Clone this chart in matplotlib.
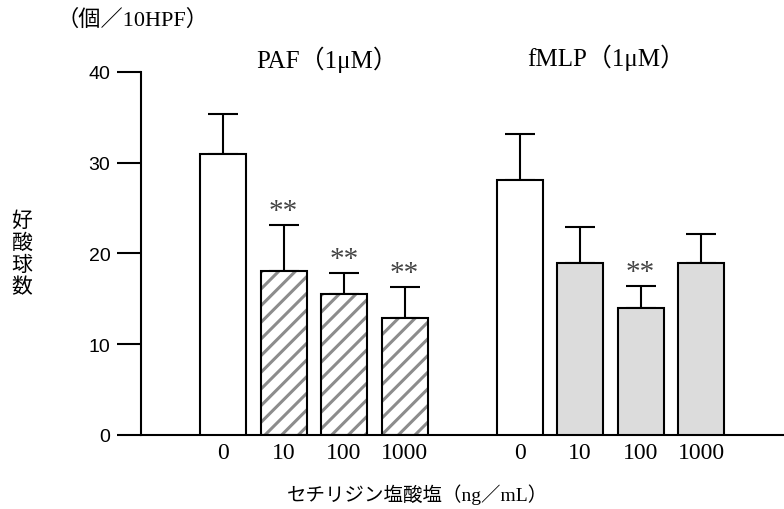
import numpy as np
import matplotlib.pyplot as plt

plt.rcParams['font.family'] = ['Liberation Serif', 'Noto Sans CJK JP']
plt.rcParams['hatch.linewidth'] = 2.2
plt.rcParams['hatch.color'] = '#8c8c8c'

# data
doses = ['0', '10', '100', '1000']
paf_mean = [31.0, 18.1, 15.5, 12.9]
paf_err = [4.4, 5.0, 2.4, 3.4]
fmlp_mean = [28.1, 19.0, 14.0, 19.0]
fmlp_err = [5.1, 3.9, 2.4, 3.1]
paf_sig = [False, True, True, True]
fmlp_sig = [False, False, True, False]

fig = plt.figure(figsize=(7.84, 5.10), dpi=100)
ax = fig.add_axes([141/784, 1 - 436/510, 643/784, 363/510])

step = 1.0
gap = 1.9
x_paf = np.arange(4) * step
x_fmlp = x_paf[-1] + gap + np.arange(4) * step
w = 0.76
lw = 1.5

def draw_group(xs, means, errs, sig, fills, hatched):
    for x, m, e, s, fc, h in zip(xs, means, errs, sig, fills, hatched):
        if h:
            # hatch in gray first, then black outline on top
            ax.bar(x, m, width=w, color='white', edgecolor='#8c8c8c', hatch='//', linewidth=0, zorder=2)
            ax.bar(x, m, width=w, fill=False, edgecolor='black', linewidth=lw, zorder=3)
        else:
            ax.bar(x, m, width=w, color=fc, edgecolor='black', linewidth=lw, zorder=3)
        ax.errorbar(x, m, yerr=[[0], [e]], fmt='none', ecolor='black', elinewidth=lw,
                    capsize=10.5, capthick=lw, zorder=1)
        if s:
            ax.text(x, m + e + 0.1, '**', ha='center', va='bottom', fontsize=21,
                    color='#444444', family=['Liberation Serif'])

draw_group(x_paf, paf_mean, paf_err, paf_sig, ['white'] * 4, [False, True, True, True])
draw_group(x_fmlp, fmlp_mean, fmlp_err, fmlp_sig, ['white', '#dcdcdc', '#dcdcdc', '#dcdcdc'],
           [False] * 4)

ax.set_xlim(-1.355, 9.27)
ax.set_ylim(0, 40)
ax.set_yticks([0, 10, 20, 30, 40])
ax.set_yticklabels(['0', '10', '20', '30', '40'], family=['Liberation Sans'], fontsize=14)
ax.tick_params(axis='y', length=17, width=lw, pad=5)
ax.set_xticks(list(x_paf) + list(x_fmlp))
ax.set_xticklabels(doses + doses, fontsize=17)
ax.tick_params(axis='x', length=0, pad=5)
for side in ['top', 'right']:
    ax.spines[side].set_visible(False)
ax.spines['left'].set_linewidth(lw)
ax.spines['bottom'].set_linewidth(lw)

fig.text(22/784, 1 - 254/510, '好\n酸\n球\n数', ha='center', va='center', fontsize=15,
         linespacing=1.0, family=['Noto Sans CJK JP'])
fig.text(132/784, 1 - 20/510, '（個／10HPF）', ha='center', va='center', fontsize=16)
fig.text(327/784, 1 - 60/510, 'PAF（1μM）', ha='center', va='center', fontsize=18)
fig.text(606/784, 1 - 58/510, 'fMLP（1μM）', ha='center', va='center', fontsize=18)
fig.text(418/784, 1 - 495/510, 'セチリジン塩酸塩（ng／mL）', ha='center', va='center', fontsize=14)

fig.savefig('out.png', dpi=100)
